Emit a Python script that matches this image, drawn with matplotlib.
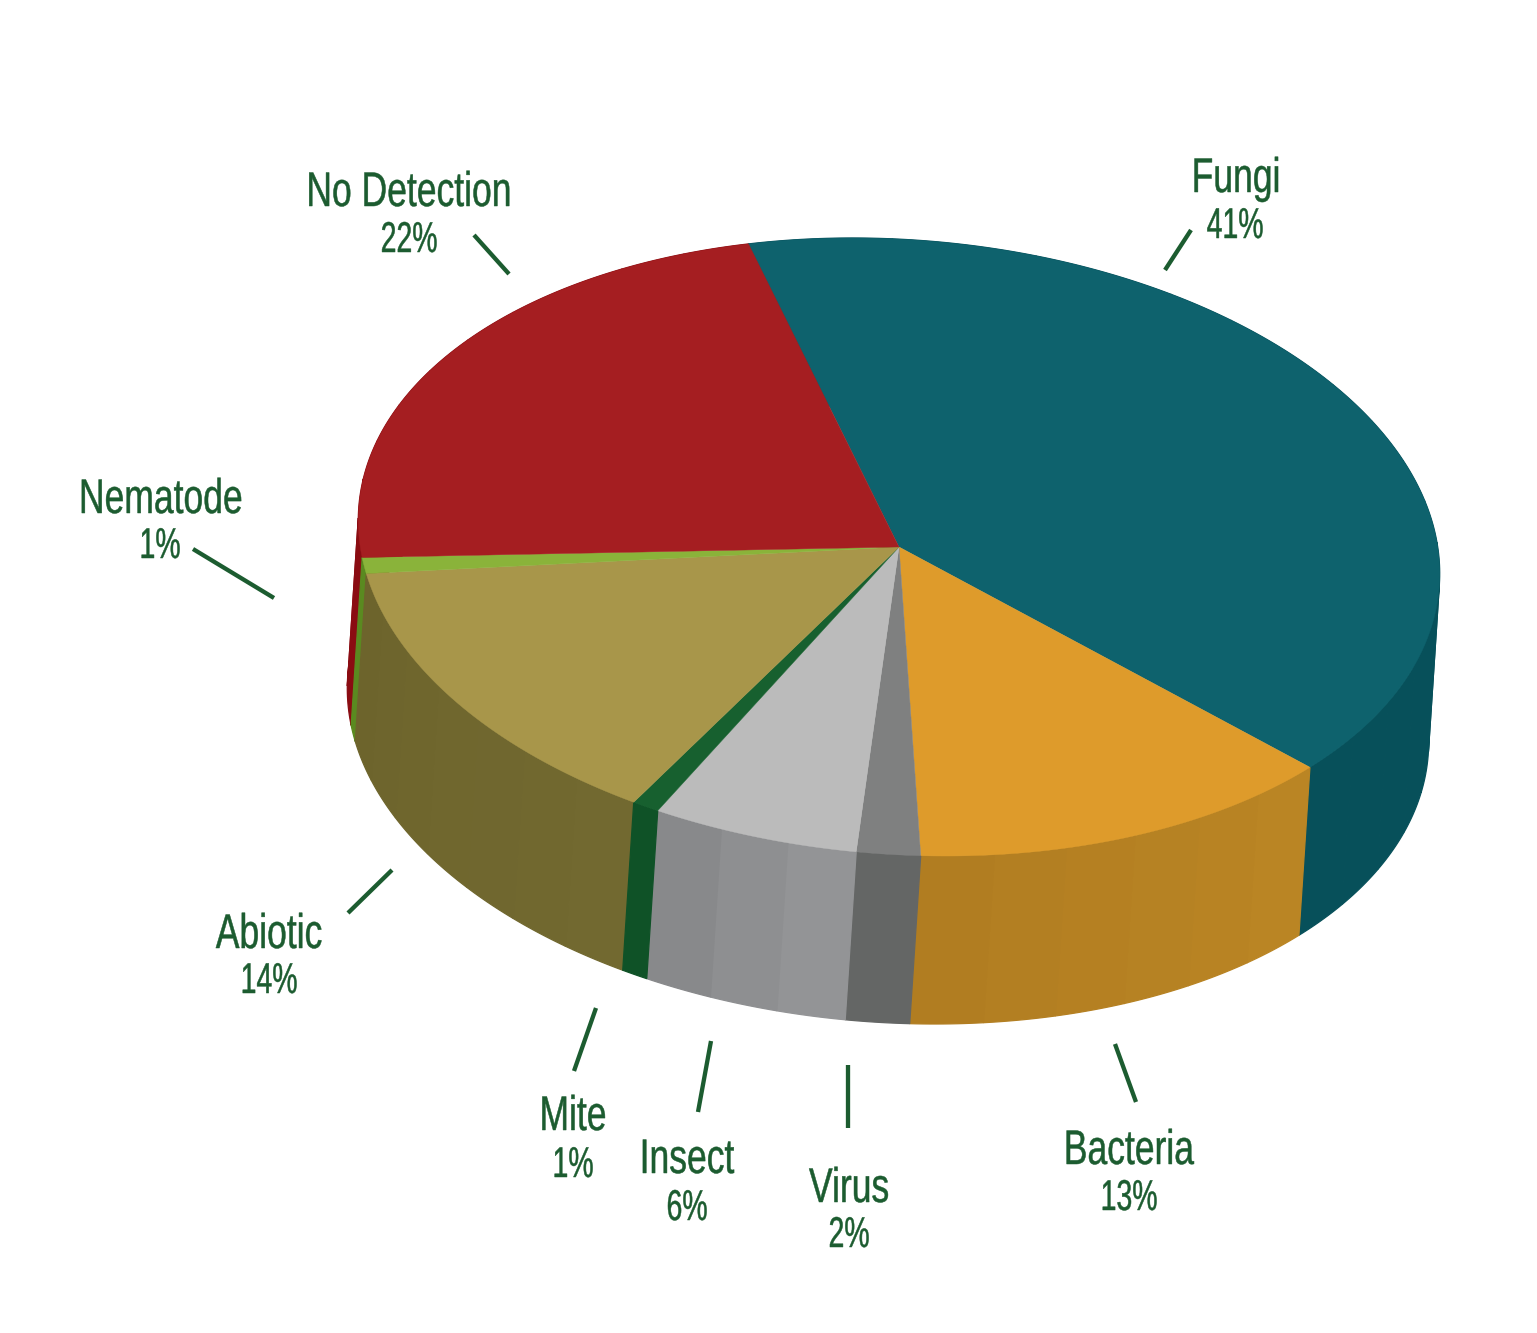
import numpy as np
import matplotlib
matplotlib.use("Agg")
import matplotlib.pyplot as plt
from matplotlib.patches import Polygon
from matplotlib.colors import to_rgb
from matplotlib.patheffects import AbstractPathEffect
from matplotlib.transforms import Affine2D

categories = ["Fungi", "Bacteria", "Virus", "Insect", "Mite", "Abiotic", "Nematode", "No Detection"]
shares = [40.75, 13.1, 1.9, 6.1, 0.8, 14.1, 0.83, 22.42]
pct_labels = ["41%", "13%", "2%", "6%", "1%", "14%", "1%", "22%"]

top_colors = ["#0e626d", "#de9b2b", "#7f8080", "#bbbbbb", "#17602f", "#a8964a", "#8ab33a", "#a51e21"]
side_start = ["#08505b", "#ba8524", "#646665", "#939496", "#0f5227", "#726930", "#5a8a20", "#8a0c12"]
side_end = ["#07505a", "#b17d21", "#626463", "#88898b", "#0f5227", "#6d642c", "#5a8a20", "#8a0c12"]

label_xy = [(1236, 192), (1129, 1164), (849, 1202), (687, 1173), (573, 1130), (269, 948), (161, 513), (409, 206)]
pct_xy = [(1235, 238), (1129, 1210), (849, 1247), (687, 1220), (573, 1177), (269, 993), (160, 558), (409, 252)]
leaders = [((1165, 270), (1191, 230)), ((1115, 1044), (1136, 1102)), ((848, 1065), (848, 1128)),
           ((698, 1112), (711, 1041)), ((574, 1071), (596, 1008)), ((348, 913), (392, 870)),
           ((193, 549), (274, 598)), ((474, 235), (509, 274))]

W, H = 1537, 1333
CX, CY = 899.0, 547.0
A, B, C, D = 539.0, 43.0, 2.0, 309.0
DEPTH = np.array([-11.0, 168.0])
START = -101.6
GREEN = "#1c5c30"


class Condense(AbstractPathEffect):
    """Narrow a text horizontally about its centre, as no condensed face is installed."""

    def __init__(self, sx, cx, stroke=0.35):
        super().__init__()
        self.sx, self.cx, self.stroke = sx, cx, stroke

    def draw_path(self, renderer, gc, tpath, affine, rgbFace=None):
        squeeze = Affine2D().translate(-self.cx, 0).scale(self.sx, 1).translate(self.cx, 0)
        gc0 = renderer.new_gc()
        gc0.copy_properties(gc)
        gc0.set_linewidth(self.stroke)
        gc0.set_foreground(rgbFace)
        renderer.draw_path(gc0, tpath, affine + squeeze, rgbFace)
        gc0.restore()


def rim(t_deg):
    t = np.radians(t_deg)
    return np.column_stack([CX + A * np.cos(t) + B * np.sin(t), CY + C * np.cos(t) + D * np.sin(t)])


plt.rcParams["font.family"] = ["Liberation Sans", "DejaVu Sans"]
fig = plt.figure(figsize=(W / 100, H / 100), dpi=100, facecolor="white")
ax = fig.add_axes([0, 0, 1, 1])
ax.set_xlim(0, W)
ax.set_ylim(H, 0)
ax.axis("off")

edges = START + np.concatenate([[0], np.cumsum(shares)]) * 3.6

# sides, back to front
order = [7, 0, 6, 5, 1, 2, 3, 4]
for i in order:
    t0, t1 = edges[i], edges[i + 1]
    n = max(1, int(np.ceil((t1 - t0) / 8)))
    facets = np.linspace(t0, t1, n + 1)
    c0, c1 = np.array(to_rgb(side_start[i])), np.array(to_rgb(side_end[i]))
    for k in range(n):
        ts = np.linspace(facets[k], facets[k + 1], 12)
        p = rim(ts)
        col = c0 + (c1 - c0) * (k / max(1, n - 1))
        poly = np.vstack([p, (p + DEPTH)[::-1]])
        ax.add_patch(Polygon(poly, closed=True, fc=col, ec=col, lw=0.9, zorder=2 + order.index(i) * 0.1 + k * 0.001))

# top face
for i in range(len(shares)):
    ts = np.linspace(edges[i], edges[i + 1], 120)
    poly = np.vstack([[CX, CY], rim(ts)])
    ax.add_patch(Polygon(poly, closed=True, fc=top_colors[i], ec=top_colors[i], lw=0.3, zorder=4))

for (a, b) in leaders:
    ax.plot([a[0], b[0]], [a[1], b[1]], color=GREEN, lw=3.1, solid_capstyle="butt", zorder=5)

for name, pct, lxy, pxy in zip(categories, pct_labels, label_xy, pct_xy):
    ax.text(lxy[0], lxy[1], name, ha="center", va="baseline", fontsize=35, color=GREEN, zorder=6,
            path_effects=[Condense(0.73, lxy[0])])
    ax.text(pxy[0], pxy[1], pct, ha="center", va="baseline", fontsize=31, color=GREEN, zorder=6,
            path_effects=[Condense(0.66, pxy[0])])

fig.savefig("out.png", dpi=100, facecolor="white")
